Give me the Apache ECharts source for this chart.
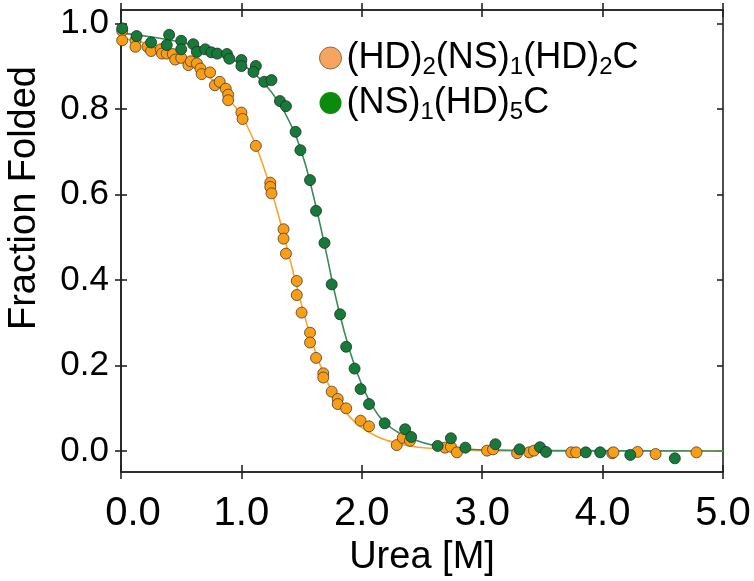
<!DOCTYPE html>
<html>
<head>
<meta charset="utf-8">
<script src="https://cdn.jsdelivr.net/npm/echarts@6/dist/echarts.min.js"></script>
<style>
  html, body { margin: 0; padding: 0; background: #fff; }
  #main { width: 754px; height: 581px; }
</style>
</head>
<body>
<div id="main"></div>
<script>
// tick labels
var xTicks = [0, 1, 2, 3, 4, 5];
var yTicks = [0, 0.2, 0.4, 0.6, 0.8, 1.0];

// (HD)2(NS)1(HD)2C measured points [urea, fraction folded]
var orangePts = [
  [0.01, 0.983], [0.01, 0.961], [0.12, 0.961], [0.12, 0.946], [0.22, 0.946], [0.25, 0.936],
  [0.33, 0.940], [0.34, 0.930], [0.38, 0.930], [0.43, 0.929], [0.45, 0.916], [0.50, 0.920],
  [0.56, 0.903], [0.58, 0.912], [0.63, 0.907], [0.66, 0.895], [0.67, 0.882], [0.74, 0.886],
  [0.78, 0.856], [0.82, 0.864], [0.87, 0.848], [0.89, 0.834], [0.89, 0.821], [1.00, 0.792],
  [1.01, 0.777], [1.12, 0.714], [1.24, 0.628], [1.24, 0.618], [1.25, 0.603], [1.35, 0.519],
  [1.35, 0.497], [1.37, 0.462], [1.46, 0.398], [1.46, 0.365], [1.50, 0.324], [1.57, 0.277],
  [1.57, 0.254], [1.62, 0.218], [1.68, 0.182], [1.68, 0.172], [1.75, 0.139], [1.80, 0.122],
  [1.80, 0.110], [1.87, 0.100], [1.99, 0.071], [2.06, 0.058], [2.29, 0.014], [2.34, 0.031],
  [2.40, 0.024], [2.69, 0.008], [2.74, 0.010], [2.79, -0.003], [3.04, 0.001], [3.09, 0.004],
  [3.29, -0.005], [3.39, -0.003], [3.43, 0.001], [3.74, -0.003], [3.78, -0.003], [4.08, -0.005],
  [4.09, -0.003], [4.29, -0.002], [4.44, -0.007], [4.78, -0.003]
];

// (NS)1(HD)5C measured points
var greenPts = [
  [0.01, 0.989], [0.13, 0.971], [0.25, 0.956], [0.40, 0.974], [0.38, 0.950], [0.50, 0.960],
  [0.50, 0.940], [0.60, 0.952], [0.63, 0.934], [0.70, 0.940], [0.75, 0.933], [0.80, 0.930],
  [0.88, 0.929], [0.90, 0.918], [1.00, 0.915], [1.00, 0.901], [1.12, 0.901], [1.10, 0.887],
  [1.19, 0.864], [1.25, 0.868], [1.32, 0.819], [1.37, 0.807], [1.45, 0.747], [1.49, 0.704],
  [1.57, 0.634], [1.62, 0.562], [1.69, 0.487], [1.75, 0.390], [1.82, 0.320], [1.87, 0.244],
  [1.94, 0.193], [1.99, 0.145], [2.06, 0.110], [2.19, 0.065], [2.36, 0.051], [2.41, 0.033],
  [2.63, 0.012], [2.74, 0.030], [2.86, 0.008], [3.11, 0.016], [3.31, 0.004], [3.48, 0.009],
  [3.53, -0.002], [3.86, -0.003], [3.98, -0.003], [4.23, -0.009], [4.60, -0.017]
];

// fitted curves
var orangeFit = [
  [0, 0.966], [0.2, 0.955], [0.4, 0.937], [0.6, 0.905], [0.8, 0.857], [0.9, 0.822],
  [1.0, 0.785], [1.1, 0.728], [1.2, 0.652], [1.3, 0.56], [1.4, 0.452], [1.5, 0.342],
  [1.6, 0.245], [1.7, 0.17], [1.8, 0.118], [1.9, 0.08], [2.0, 0.055], [2.1, 0.038],
  [2.2, 0.026], [2.4, 0.012], [2.6, 0.006], [2.8, 0.003], [3.0, 0.001], [3.5, 0], [5, 0]
];
var greenFit = [
  [0, 0.978], [0.3, 0.967], [0.6, 0.95], [0.8, 0.932], [1.0, 0.905], [1.1, 0.885],
  [1.2, 0.857], [1.3, 0.82], [1.4, 0.77], [1.5, 0.70], [1.6, 0.595], [1.7, 0.47],
  [1.8, 0.34], [1.9, 0.235], [2.0, 0.155], [2.1, 0.10], [2.2, 0.065], [2.3, 0.044],
  [2.4, 0.03], [2.6, 0.013], [2.8, 0.006], [3.0, 0.003], [3.5, 0.001], [5, 0]
];

var names = ['(HD)2(NS)1(HD)2C', '(NS)1(HD)5C'];

var chart = echarts.init(document.getElementById('main'));
var font = '"Liberation Sans", Arial, sans-serif';
var frame = { color: '#222', width: 1.6 };

// two copies of bottom/left axis to get ticks crossing the frame
function xAx(pos, inside, labels) {
  return {
    type: 'value', position: pos, min: 0, max: 5, gridIndex: 0,
    axisLine: { show: true, onZero: false, lineStyle: frame },
    splitLine: { show: false },
    axisTick: { show: true, inside: inside, length: 7, customValues: xTicks, lineStyle: frame },
    axisLabel: labels ? {
      show: true, customValues: xTicks, margin: 22,
      fontFamily: font, fontSize: 40, color: '#000',
      formatter: function (v) { return v === 0 ? '{f|0.0}' : v.toFixed(1); },
      rich: { f: { fontFamily: font, fontSize: 40, color: '#000', padding: [0, 0, 0, 24] } }
    } : { show: false }
  };
}
function yAx(pos, inside, labels) {
  return {
    type: 'value', position: pos, min: -0.049, max: 1.032, gridIndex: 0,
    axisLine: { show: true, onZero: false, lineStyle: frame },
    splitLine: { show: false },
    axisTick: { show: true, inside: inside, length: 6, customValues: yTicks, lineStyle: frame },
    axisLabel: labels ? {
      show: true, customValues: yTicks, margin: 12,
      fontFamily: font, fontSize: 35, color: '#000',
      formatter: function (v) { return v.toFixed(1); }
    } : { show: false }
  };
}

var xs = [xAx('bottom', false, true), xAx('bottom', true, false), xAx('top', true, false), xAx('top', false, false)];
xs[0].name = 'Urea [M]';
xs[0].nameLocation = 'middle';
xs[0].nameGap = 66;
xs[0].nameTextStyle = { fontFamily: font, fontSize: 38, color: '#000' };
var ys = [yAx('left', false, true), yAx('left', true, false), yAx('right', true, false)];
ys[0].name = 'Fraction Folded';
ys[0].nameLocation = 'middle';
ys[0].nameGap = 77;
ys[0].nameTextStyle = { fontFamily: font, fontSize: 38, color: '#000', padding: [0, 0, 0, 86] };

var sub = { fontFamily: font, fontSize: 24, color: '#000', padding: [18, 0, 0, 0] };

chart.setOption({
  animation: false,
  backgroundColor: '#fff',
  grid: { left: 121, right: 31, top: 10, bottom: 109, outerBoundsMode: 'none', containLabel: false },
  xAxis: xs,
  yAxis: ys,
  legend: {
    orient: 'vertical', left: 314, top: 35, itemGap: 6, itemWidth: 22, itemHeight: 22,
    icon: 'circle',
    data: [
      { name: names[0], itemStyle: { color: '#F5A55E', borderColor: '#8a6a4a', borderWidth: 1 } },
      { name: names[1], itemStyle: { color: '#0B8A0B', borderColor: '#0B8A0B', borderWidth: 0 } }
    ],
    textStyle: {
      fontFamily: font, fontSize: 36, color: '#000',
      rich: { s: sub }
    },
    formatter: function (n) {
      return n === names[0] ? '(HD){s|2}(NS){s|1}(HD){s|2}C' : '(NS){s|1}(HD){s|5}C';
    }
  },
  series: [
    {
      name: 'fitO', type: 'line', data: orangeFit, smooth: true, showSymbol: false,
      lineStyle: { color: '#F9A533', width: 1.6 }, z: 2
    },
    {
      name: 'fitG', type: 'line', data: greenFit, smooth: true, showSymbol: false,
      lineStyle: { color: '#3B8A5A', width: 1.6 }, z: 2
    },
    {
      name: names[0], type: 'scatter', data: orangePts, symbolSize: 11,
      itemStyle: { color: '#F99E16', borderColor: '#4a3a2a', borderWidth: 0.8, opacity: 1 }, z: 3
    },
    {
      name: names[1], type: 'scatter', data: greenPts, symbolSize: 11,
      itemStyle: { color: '#167A3A', borderColor: '#1f2f22', borderWidth: 0.8, opacity: 1 }, z: 3
    }
  ]
});
</script>
</body>
</html>
